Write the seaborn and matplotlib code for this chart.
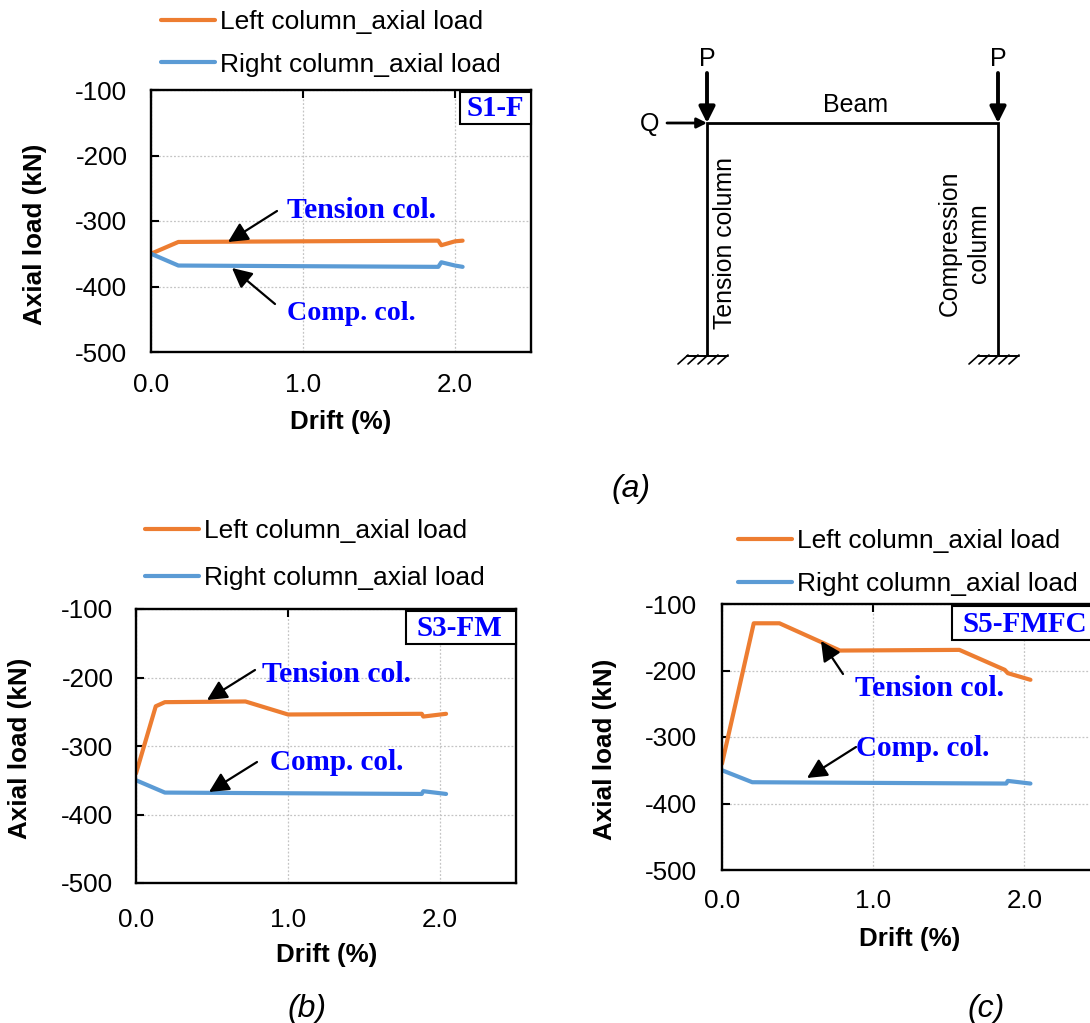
import matplotlib
matplotlib.use("Agg")
import matplotlib.pyplot as plt
import seaborn as sns
from matplotlib.patches import Rectangle

W, H = 1090, 1023

sns.set_style("white")
plt.rcParams["font.family"] = ["Liberation Sans", "DejaVu Sans"]
plt.rcParams["text.color"] = "black"
plt.rcParams["axes.labelcolor"] = "black"
plt.rcParams["xtick.color"] = "black"
plt.rcParams["ytick.color"] = "black"

ORANGE = "#ED7D31"
BLUE = "#5B9BD5"
TICK_X = [0, 1, 2]
TICK_Y = [-500, -400, -300, -200, -100]

# Panel data
s1_left_x = [0, 0.18, 1.0, 1.89, 1.91, 2.0, 2.05]
s1_left_y = [-350, -332, -331, -330, -337, -331, -330]
s1_right_x = [0, 0.18, 1.0, 1.89, 1.91, 2.0, 2.05]
s1_right_y = [-350, -368, -369, -370, -363, -368, -370]

s3_left_x = [0, 0.13, 0.19, 0.72, 1.0, 1.88, 1.89, 2.04]
s3_left_y = [-340, -242, -236, -235, -254, -253, -257, -253]
s3_right_x = [0, 0.19, 1.0, 1.88, 1.89, 2.04]
s3_right_y = [-350, -368, -369, -370, -366, -370]

s5_left_x = [0, 0.21, 0.38, 0.78, 1.57, 1.87, 1.89, 2.04]
s5_left_y = [-340, -129, -129, -170, -169, -199, -204, -214]
s5_right_x = [0, 0.2, 1.0, 1.88, 1.89, 2.04]
s5_right_y = [-350, -368, -369, -370, -366, -370]

fig = plt.figure(figsize=(W / 100, H / 100), dpi=100)


def draw_panel(box, left, right, legend_xy, spacing, xpad, ypad, ylabel_xy, xlabel_xy):
    x0, y0, x1, y1 = box
    ax = fig.add_axes([x0 / W, 1 - y1 / H, (x1 - x0) / W, (y1 - y0) / H])
    sns.lineplot(x=left[0], y=left[1], ax=ax, color=ORANGE, lw=3.0, sort=False,
                 estimator=None, label="Left column_axial load")
    sns.lineplot(x=right[0], y=right[1], ax=ax, color=BLUE, lw=3.0, sort=False,
                 estimator=None, label="Right column_axial load")
    ax.set_xlim(0, 2.5)
    ax.set_ylim(-500, -100)
    ax.set_xticks(TICK_X, ["0.0", "1.0", "2.0"])
    ax.set_yticks(TICK_Y, [str(t) for t in TICK_Y])
    ax.grid(True, color="#c4c4c4", ls=(0, (1.5, 1.5)), lw=0.9)
    ax.tick_params(axis="x", top=True, bottom=False, direction="in", length=6,
                   width=1.5, labelsize=18.7, pad=xpad)
    ax.tick_params(axis="y", left=True, direction="in", length=6, width=1.5,
                   labelsize=18.7, pad=ypad)
    for s in ax.spines.values():
        s.set_linewidth(1.7)
        s.set_color("black")
    ax.set_xlabel("Drift (%)", fontsize=18.7, fontweight="bold", va="center")
    ax.set_ylabel("Axial load (kN)", fontsize=18.7, fontweight="bold", va="center")
    ax.xaxis.set_label_coords((xlabel_xy[0] - x0) / (x1 - x0), (y1 - xlabel_xy[1]) / (y1 - y0))
    ax.yaxis.set_label_coords((ylabel_xy[0] - x0) / (x1 - x0), (y1 - ylabel_xy[1]) / (y1 - y0))
    ax.legend(loc="center left", bbox_to_anchor=(legend_xy[0] / W, 1 - legend_xy[1] / H),
              bbox_transform=fig.transFigure, frameon=False, fontsize=19,
              handlelength=2.05, handletextpad=0.2, labelspacing=spacing,
              borderpad=0, borderaxespad=0)
    return ax


draw_panel((151, 90, 531, 352), (s1_left_x, s1_left_y), (s1_right_x, s1_right_y),
           (161, 43.5), 0.7, 15, 17, (35, 234), (341, 422))
draw_panel((136, 609, 516, 883), (s3_left_x, s3_left_y), (s3_right_x, s3_right_y),
           (145, 554.5), 0.86, 18, 16.2, (20, 748), (327, 955))
draw_panel((722, 604, 1100, 870), (s5_left_x, s5_left_y), (s5_right_x, s5_right_y),
           (738, 562.5), 0.7, 13.5, 18.3, (605, 749), (910, 939))

# Overlay in picture pixels for notes and the frame sketch
ov = fig.add_axes([0, 0, 1, 1], zorder=10)
ov.set_xlim(0, W)
ov.set_ylim(H, 0)
ov.axis("off")
ov.patch.set_alpha(0)


def serif(x, y, s, size=21.4):
    ov.text(x, y, s, family="Liberation Serif", fontweight="bold", color="#0000FF",
            fontsize=size, va="center", ha="left")


def arrow(tail, tip, lw=1.6, scale=30):
    ov.annotate("", xy=tip, xytext=tail,
                arrowprops=dict(arrowstyle="-|>", color="black", lw=lw, shrinkA=0,
                                shrinkB=0, mutation_scale=scale))


# Specimen tags
for box, name, tx, size in [
    ((460, 92, 71, 32), "S1-F", 466, 20.8),
    ((406, 611, 110, 33), "S3-FM", 416, 21),
    ((952, 606, 147, 34), "S5-FMFC", 963, 21),
]:
    ov.add_patch(Rectangle((box[0], box[1]), box[2], box[3], fc="white", ec="black", lw=1.5))
    serif(tx, box[1] + box[3] / 2 + 1, name, size)

serif(287, 210, "Tension col.")
serif(287, 313, "Comp. col.", 20.2)
serif(262, 675, "Tension col.")
serif(270, 762, "Comp. col.", 21)
serif(855, 689, "Tension col.")
serif(856, 749, "Comp. col.", 21)

arrow((277, 211), (228, 242))
arrow((275, 304), (232, 268))
arrow((255, 670), (207, 700))
arrow((257, 762), (209, 792))
arrow((843, 674), (821, 641))
arrow((856, 747), (807, 778))

# Frame sketch
col_x = [707, 998]
beam_y = 123
base_y = 355
ov.plot([col_x[0], col_x[0], col_x[1], col_x[1]], [base_y, beam_y, beam_y, base_y],
        color="black", lw=2.0, solid_joinstyle="miter")
for cx in col_x:
    ov.text(cx, 59, "P", fontsize=18, ha="center", va="center")
    arrow((cx, 73), (cx, beam_y), lw=2.8, scale=24)
    ov.plot([cx - 20, cx + 21], [base_y + 0.5, base_y + 0.5], color="black", lw=1.4)
    for off in [-19, -9, 1, 11, 21]:
        ov.plot([cx + off, cx + off - 10], [base_y, base_y + 9], color="black", lw=1.2)
arrow((667, 123), (707, 123), lw=2.0, scale=15)
ov.text(650, 124, "Q", fontsize=18, ha="center", va="center")
ov.text(856, 105, "Beam", fontsize=18, ha="center", va="center")
ov.text(725, 243, "Tension column", fontsize=17.8, rotation=90, ha="center", va="center")
ov.text(950, 243, "Compression", fontsize=17.8, rotation=90, ha="center", va="center")
ov.text(979, 243, "column", fontsize=17.8, rotation=90, ha="center", va="center")

# Sub-figure captions
for x, y, s in [(631, 489, "(a)"), (307, 1009, "(b)"), (986, 1009, "(c)")]:
    ov.text(x, y, s, fontsize=23, style="italic", ha="center", va="center")

fig.savefig("out.png", dpi=100)
